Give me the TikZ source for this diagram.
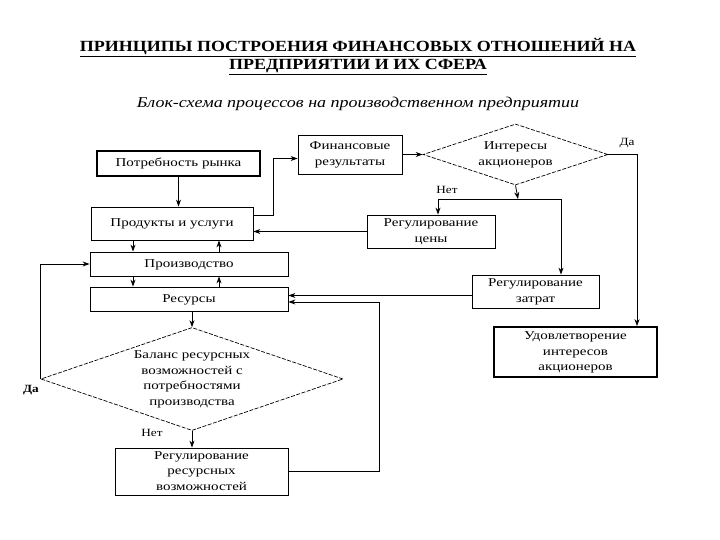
\documentclass[tikz,border=0pt]{standalone}
\usepackage{graphicx}
\usepackage{fontspec}
\setmainfont{Liberation Serif}
\usetikzlibrary{shapes.geometric,arrows.meta}
\newcommand\bxt[1]{\scalebox{1.25}[1]{\begin{tabular}{@{}c@{}}#1\end{tabular}}}
\begin{document}
\begin{tikzpicture}[x=1pt,y=-1pt,
  every node/.style={font=\fontsize{12}{15.5}\selectfont, align=center, inner sep=0pt},
  box/.style={draw, line width=0.8pt, rectangle},
  thickbox/.style={draw, line width=1.8pt, rectangle},
  dia/.style={draw, dashed, dash pattern=on 4pt off 1.5pt, line width=0.7pt, diamond, aspect=3, inner sep=0pt},
  arr/.style={line width=0.8pt, -{Stealth[length=7pt,width=5pt]}},
  lbl/.style={font=\fontsize{11}{12}\selectfont}]
\useasboundingbox (0,0) rectangle (720,540);
% titles
\node[font=\bfseries\fontsize{15.5}{17}\selectfont] (t1) at (358,48) {\scalebox{1.16}[1]{\underline{ПРИНЦИПЫ ПОСТРОЕНИЯ ФИНАНСОВЫХ ОТНОШЕНИЙ НА}}};
\node[font=\bfseries\fontsize{15.5}{17}\selectfont] (t2) at (358,67) {\scalebox{1.16}[1]{\underline{ПРЕДПРИЯТИИ И ИХ СФЕРА}}};
\node[font=\itshape\fontsize{15}{18}\selectfont] (sub) at (358,104) {\scalebox{1.2}[1]{Блок-схема процессов на производственном предприятии}};
% boxes
\node[thickbox, minimum width=163pt, minimum height=25pt] (potr) at (178.5,163.5) {\bxt{Потребность рынка}};
\node[box, minimum width=162pt, minimum height=33pt] (prod) at (172,223.5) {\raisebox{5pt}{\bxt{Продукты и услуги}}};
\node[box, minimum width=104pt, minimum height=39pt] (fin) at (350,154.5) {\bxt{Финансовые\\результаты}};
\node[dia, minimum width=185pt, minimum height=61pt] (intd) at (515.5,154.5) {\bxt{Интересы\\акционеров}};
\node[box, minimum width=128pt, minimum height=33pt] (cen) at (431,231.5) {\bxt{Регулирование\\цены}};
\node[box, minimum width=198pt, minimum height=24pt] (proiz) at (189,264) {\bxt{Производство}};
\node[box, minimum width=198pt, minimum height=24pt] (res) at (189,299) {\bxt{Ресурсы}};
\node[box, minimum width=127pt, minimum height=33pt] (zatr) at (535.5,291.5) {\bxt{Регулирование\\затрат}};
\node[thickbox, minimum width=163pt, minimum height=50pt] (udov) at (575.5,352) {\bxt{Удовлетворение\\интересов\\акционеров}};
\node[dia, minimum width=300pt, minimum height=103pt] (bal) at (192,379) {\bxt{Баланс ресурсных\\возможностей с\\потребностями\\производства}};
\node[box, minimum width=173pt, minimum height=47pt] (regr) at (201.5,471.5) {\bxt{Регулирование\\ресурсных\\возможностей}};
% labels
\node[lbl] (da1) at (627,143) {\scalebox{1.2}[1]{Да}};
\node[lbl] (net1) at (447,190) {\scalebox{1.2}[1]{Нет}};
\node[lbl, font=\bfseries\fontsize{11}{12}\selectfont] (da2) at (31,390) {\scalebox{1.2}[1]{Да}};
\node[lbl] (net2) at (152,433) {\scalebox{1.2}[1]{Нет}};
\coordinate (split) at (518,199);
% connectors
\draw[arr] (potr.south) -- (potr.south |- prod.north);
\draw[arr] ([yshift=8pt]prod.east) -- ++(20,0) |- ([yshift=-4pt]fin.west);
\draw[arr] (fin.east) -- (intd.west);
\draw[arr] (intd.east) -| ([xshift=61.5pt]udov.north);
\draw[arr] (intd.south) -- (split);
\draw[arr] (split) -| ([xshift=7pt]cen.north);
\draw[arr] (split) -| ([xshift=25.5pt]zatr.north);
\draw[arr] (cen.west) -- (cen.west -| prod.east);
\draw[arr] ([xshift=-39pt]prod.south) -- ([xshift=-39pt]prod.south |- proiz.north);
\draw[arr] ([xshift=47pt]prod.south |- proiz.north) -- ([xshift=47pt]prod.south);
\draw[arr] ([xshift=-56pt]proiz.south) -- ([xshift=-56pt]proiz.south |- res.north);
\draw[arr] ([xshift=30pt]proiz.south |- res.north) -- ([xshift=30pt]proiz.south);
\draw[arr] (bal.north |- res.south) -- (bal.north);
\draw[arr] ([yshift=-4pt]zatr.west) -- ([yshift=-4pt]zatr.west -| res.east);
\draw[arr] (regr.east) -- ++(91,0) |- ([yshift=-3pt]res.east);
\draw[arr] (bal.west) |- (proiz.west);
\draw[arr] (bal.south) -- (bal.south |- regr.north);
\end{tikzpicture}
\end{document}
